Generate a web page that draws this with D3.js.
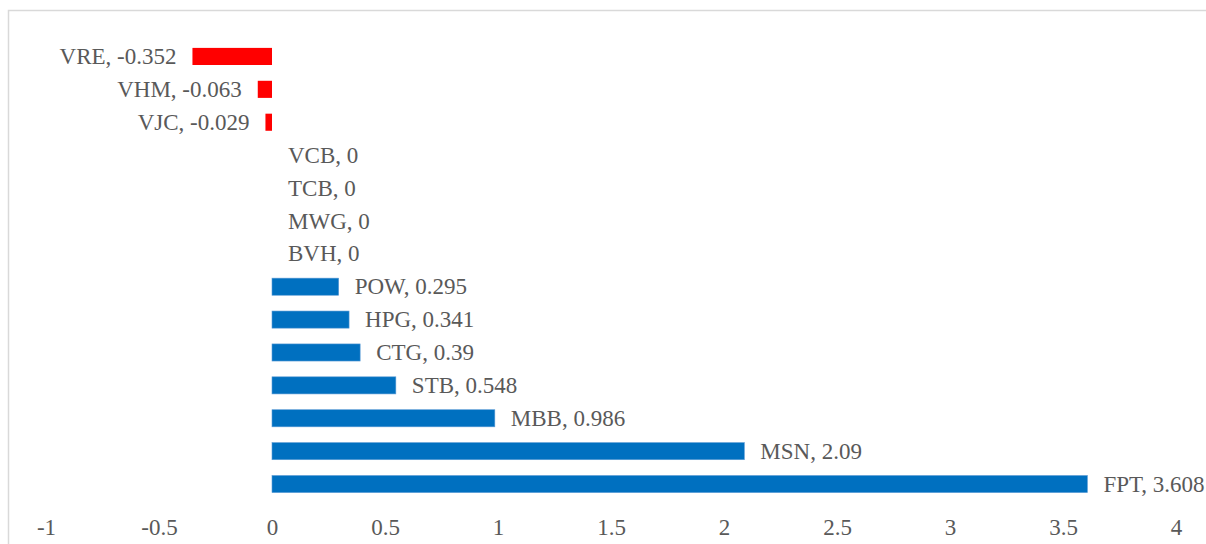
<!DOCTYPE html>
<html>
<head>
<meta charset="utf-8">
<script src="https://cdn.jsdelivr.net/npm/d3@7"></script>
<style>
  html, body { margin: 0; padding: 0; background: #fff; }
</style>
</head>
<body>
<div id="chart"></div>
<script>
const tickers = ["VRE", "VHM", "VJC", "VCB", "TCB", "MWG", "BVH", "POW", "HPG", "CTG", "STB", "MBB", "MSN", "FPT"];
const values = [-0.352, -0.063, -0.029, 0, 0, 0, 0, 0.295, 0.341, 0.39, 0.548, 0.986, 2.09, 3.608];
const ticks = [-1, -0.5, 0, 0.5, 1, 1.5, 2, 2.5, 3, 3.5, 4];

const data = tickers.map((t, i) => ({ name: t, value: values[i] }));

const W = 1206, H = 544;

const svg = d3.select("#chart")
  .append("svg")
  .attr("width", W)
  .attr("height", H)
  .style("font-family", "'Liberation Serif', 'DejaVu Serif', serif");

// chart area border
svg.append("rect")
  .attr("x", 8.5)
  .attr("y", 10.5)
  .attr("width", 1220)
  .attr("height", 560)
  .attr("fill", "none")
  .attr("stroke", "#d9d9d9")
  .attr("stroke-width", 1.5);

const x = d3.scaleLinear()
  .domain([-1, 4])
  .range([46, 1176]);

const y = d3.scaleBand()
  .domain(tickers)
  .range([40, 500.5])
  .paddingInner(0.48)
  .paddingOuter(0.24);

const axis = svg.append("g")
  .attr("transform", `translate(0,${518})`)
  .call(d3.axisBottom(x).tickValues(ticks).tickSize(0).tickPadding(0)
    .tickFormat(d => String(d)));
axis.select(".domain").remove();
axis.selectAll("text")
  .attr("dy", "0.72em")
  .style("font-family", "'Liberation Serif', 'DejaVu Serif', serif")
  .style("font-size", "23px")
  .attr("fill", "#595959");

svg.append("g")
  .selectAll("rect")
  .data(data.filter(d => d.value !== 0))
  .enter()
  .append("rect")
  .attr("x", d => x(Math.min(0, d.value)))
  .attr("y", d => y(d.name))
  .attr("width", d => Math.abs(x(d.value) - x(0)))
  .attr("height", y.bandwidth())
  .attr("fill", d => d.value < 0 ? "#ff0000" : "#0070c0")
  .attr("stroke", d => d.value < 0 ? "none" : "#5b9bd5")
  .attr("stroke-width", 0.6);

svg.append("g")
  .selectAll("text")
  .data(data)
  .enter()
  .append("text")
  .attr("x", d => d.value < 0 ? x(d.value) - 16 : x(d.value) + 16)
  .attr("y", d => y(d.name) + y.bandwidth() / 2)
  .attr("dy", "0.33em")
  .attr("text-anchor", d => d.value < 0 ? "end" : "start")
  .style("font-size", "23px")
  .attr("fill", "#595959")
  .text(d => `${d.name}, ${d.value}`);
</script>
</body>
</html>
